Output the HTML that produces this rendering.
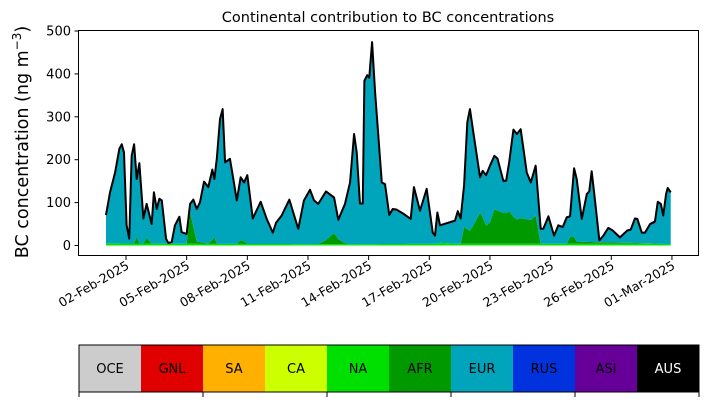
<!DOCTYPE html>
<html><head><meta charset="utf-8">
<style>
html,body{margin:0;padding:0;background:#fff;width:707px;height:402px;overflow:hidden}
svg{display:block;font-family:"DejaVu Sans","Liberation Sans",sans-serif}
</style></head>
<body>
<svg id="chart" width="707" height="402" viewBox="0 0 707 402" xmlns="http://www.w3.org/2000/svg">
<text x="388" y="22" font-size="14.5" text-anchor="middle">Continental contribution to BC concentrations</text>
<text transform="translate(28,142) rotate(-90)" font-size="17.5" text-anchor="middle">BC concentration (ng m<tspan dy="-7" font-size="12">−3</tspan><tspan dy="7">)</tspan></text>
<g id="plot"></g>
<rect x="78.5" y="30.5" width="620" height="225" fill="none" stroke="#000" stroke-width="1"/>
<g id="yaxis"></g>
<g id="xaxis"></g>
<g id="legend"></g>
</svg>
<script>
const times=[1.01,1.21,1.46,1.67,1.79,1.90,2.03,2.16,2.28,2.40,2.53,2.66,2.86,3.02,3.27,3.38,3.52,3.65,3.77,3.98,4.09,4.26,4.42,4.64,4.75,5.00,5.17,5.33,5.50,5.66,5.86,6.07,6.27,6.37,6.49,6.65,6.78,6.90,7.14,7.28,7.48,7.67,7.84,8.00,8.27,8.66,8.96,9.26,9.42,9.70,10.08,10.27,10.52,10.80,11.10,11.30,11.51,11.89,12.29,12.50,12.83,13.08,13.28,13.41,13.57,13.71,13.79,13.93,14.03,14.17,14.32,14.65,14.81,15.02,15.19,15.37,15.72,16.08,16.24,16.54,16.87,17.17,17.28,17.40,17.53,18.27,18.41,18.55,18.72,18.88,19.01,19.18,19.51,19.64,19.81,20.00,20.22,20.37,20.66,20.80,20.95,21.16,21.33,21.52,21.82,22.02,22.26,22.51,22.64,22.89,23.17,23.38,23.60,23.80,23.96,24.16,24.29,24.54,24.79,24.91,25.03,25.15,25.41,25.61,25.85,26.07,26.43,26.79,26.96,27.17,27.29,27.51,27.67,27.92,28.16,28.30,28.45,28.57,28.71,28.79,28.94];
const totals=[71,124,170,225,236,217,47,16,209,236,155,192,63,97,50,124,85,109,105,16,6,8,47,67,31,27,97,107,85,101,149,136,177,155,202,295,318,194,202,163,105,159,147,164,63,102,62,30,53,70,107,77,39,105,130,105,97,126,112,60,97,147,260,217,98,98,384,397,391,474,357,147,143,71,85,84,74,62,136,81,132,30,23,77,47,58,80,63,140,287,318,263,159,174,164,186,209,203,151,151,194,270,260,271,170,147,186,39,39,68,23,47,43,66,68,180,155,62,120,126,173,124,12,23,41,35,19,35,37,63,62,30,30,50,56,102,97,70,120,134,124];
const afrTimes=[1.0,2.4,2.53,2.66,2.86,2.98,3.1,5.0,5.12,5.17,5.33,5.5,6.2,6.35,6.5,7.5,7.73,7.95,11.5,12.0,12.29,12.5,12.9,18.6,18.72,19.0,19.41,19.56,19.75,20.0,20.15,20.5,20.75,21.0,21.25,21.5,22.0,22.26,22.46,23.9,24.06,24.2,28.94];
const afrValues=[0,0,16,0,0,20,0,0,60,74,40,5,0,19,0,0,12,0,0,12,26,12,0,0,39,30,60,79,40,50,82,75,70,77,55,60,55,66,0,0,43,5,0];
const naTimes=[1.0,5.0,13.0,17.5,17.6,18.0,28.0,28.94];
const naValues=[5,4,3,4,12,4,4,3];
const asiValues=[2,3,4,3];
const yTicks=[0,100,200,300,400,500];
const dateLabels=["02-Feb-2025","05-Feb-2025","08-Feb-2025","11-Feb-2025","14-Feb-2025","17-Feb-2025","20-Feb-2025","23-Feb-2025","26-Feb-2025","01-Mar-2025"];
const dateDays=[2,5,8,11,14,17,20,23,26,29];
const regions=["OCE","GNL","SA","CA","NA","AFR","EUR","RUS","ASI","AUS"];
const regionColors=["#cccccc","#e00000","#ffb000","#ccff00","#00e000","#009a00","#00a5bc","#0033dd","#660099","#000000"];

const NS="http://www.w3.org/2000/svg";
const X=d=>126+(d-2)*20.22;
const Y=v=>245.5-v*0.429;
function interp(ts,vs,t){if(t<=ts[0])return vs[0];for(let i=1;i<ts.length;i++){if(t<=ts[i]){const f=(t-ts[i-1])/(ts[i]-ts[i-1]);return vs[i-1]+f*(vs[i]-vs[i-1]);}}return vs[vs.length-1];}
function mk(tag,attrs,parent){const e=document.createElementNS(NS,tag);for(const k in attrs)e.setAttribute(k,attrs[k]);parent.appendChild(e);return e;}
const plot=document.getElementById('plot');
const na=times.map(t=>interp(naTimes,naValues,t));
const afr=times.map((t,i)=>Math.min(interp(afrTimes,afrValues,t),totals[i]-na[i]));
const asi=times.map((t,i)=>Math.min(asiValues[i%asiValues.length],Math.max(0,totals[i]-na[i]-afr[i])));
const b1=na, b2=times.map((t,i)=>na[i]+afr[i]), b3=times.map((t,i)=>totals[i]-asi[i]);
function band(lo,hi,color,name){
  let d="";times.forEach((t,i)=>{d+=(i?"L":"M")+X(t).toFixed(2)+","+Y(hi[i]).toFixed(2);});
  for(let i=times.length-1;i>=0;i--)d+="L"+X(times[i]).toFixed(2)+","+Y(lo[i]).toFixed(2);
  const p=mk('path',{d:d+"Z",fill:color,stroke:"none"},plot);
  
  
}
const zero=times.map(()=>0);
band(zero,b1,"#00e000","area-na");
band(b1,b2,"#009a00","area-afr");
band(b2,b3,"#00a5bc","area-eur");
band(b3,totals,"#660099","area-asi");
let ld="";times.forEach((t,i)=>{ld+=(i?"L":"M")+X(t).toFixed(2)+","+Y(totals[i]).toFixed(2);});
const line=mk('path',{d:ld,fill:"none",stroke:"#000","stroke-width":2,"stroke-linejoin":"round"},plot);



const ya=document.getElementById('yaxis');
yTicks.forEach(v=>{
  const l=mk('line',{x1:74.5,x2:78.5,y1:Y(v),y2:Y(v),stroke:"#000"},ya);
  
  
  const t=mk('text',{x:71,y:Y(v)+4.5,"font-size":13,"text-anchor":"end"},ya);
  t.textContent=v;
  
  
});
const xa=document.getElementById('xaxis');
dateDays.forEach((d,i)=>{
  const x=X(d);
  const l=mk('line',{x1:x,x2:x,y1:255.5,y2:260,stroke:"#000"},xa);
  
  
  const t=mk('text',{transform:`translate(${x+4},${268}) rotate(-30)`,"font-size":12.5,"text-anchor":"end"},xa);
  t.textContent=dateLabels[i];
  
  
});
const lg=document.getElementById('legend');
const cw=62;
regions.forEach((r,i)=>{
  const x=79+i*cw;
  const c=mk('rect',{x:x,y:345,width:cw,height:47,fill:regionColors[i]},lg);
  
  
  const t=mk('text',{x:x+cw/2,y:373,"font-size":13,"text-anchor":"middle",fill:r==="AUS"?"#fff":"#000"},lg);
  t.textContent=r;
  
  
});
const fr=mk('rect',{x:79,y:345,width:cw*10,height:47,fill:"none",stroke:"#000","stroke-width":1},lg);


for(let k=0;k<=5;k++){
  const tk=mk('line',{x1:79+k*2*cw,x2:79+k*2*cw,y1:392,y2:397,stroke:"#000"},lg);
  
  
}
</script>
</body></html>
